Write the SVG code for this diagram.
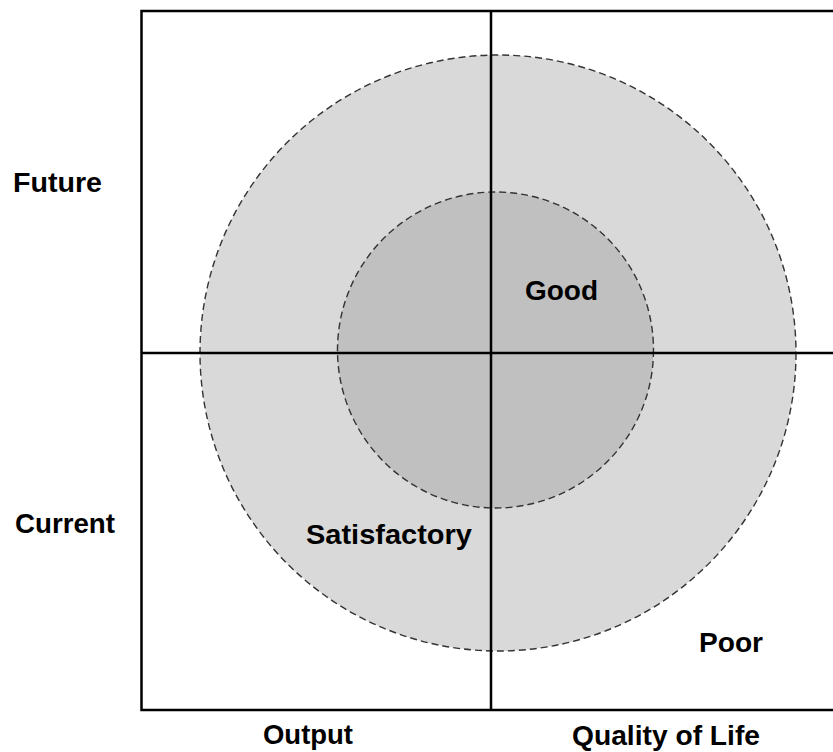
<svg xmlns="http://www.w3.org/2000/svg" width="833" height="752" viewBox="0 0 833 752">
<style>
.ring{stroke:#333;stroke-width:1.4;stroke-dasharray:7 4}
.ax{stroke:#000;stroke-width:2.5;fill:none}
text{font-family:"Liberation Sans",Arial,sans-serif;font-weight:bold;font-size:28px;fill:#000}
</style>
<rect width="833" height="752" fill="#fff"/>
<g id="outer"><circle class="ring" cx="498" cy="353" r="298" fill="#d9d9d9"/></g>
<g id="inner"><circle class="ring" cx="495.5" cy="350" r="158" fill="#c0c0c0"/></g>
<g id="connectors">
<path class="ax" d="M833 11 H141.5 V710 H833"/>
<line class="ax" x1="141.5" y1="353" x2="833" y2="353"/>
<line class="ax" x1="491" y1="11" x2="491" y2="710"/>
</g>
<g id="labels">
<text x="13" y="192" textLength="89" lengthAdjust="spacingAndGlyphs">Future</text>
<text x="15" y="533" textLength="100" lengthAdjust="spacingAndGlyphs">Current</text>
<text x="525" y="300" textLength="73" lengthAdjust="spacingAndGlyphs">Good</text>
<text x="306" y="544" textLength="166" lengthAdjust="spacingAndGlyphs">Satisfactory</text>
<text x="699" y="652" textLength="64" lengthAdjust="spacingAndGlyphs">Poor</text>
<text x="263" y="744" textLength="90" lengthAdjust="spacingAndGlyphs">Output</text>
<text x="572" y="745" textLength="188" lengthAdjust="spacingAndGlyphs">Quality of Life</text>
</g>
</svg>
